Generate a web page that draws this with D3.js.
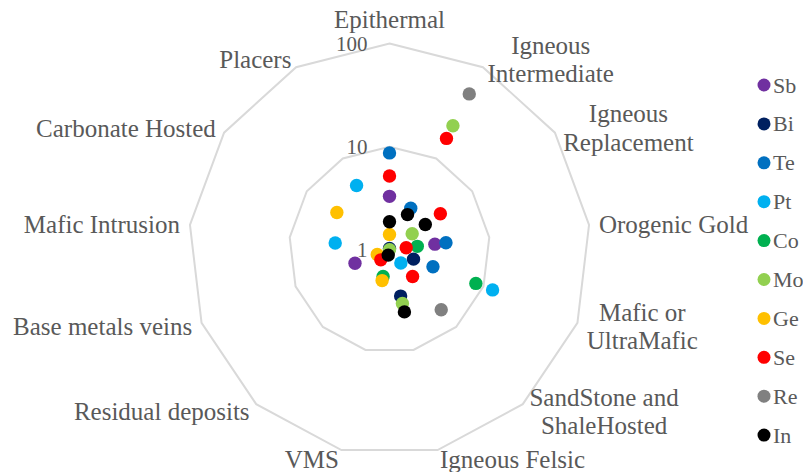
<!DOCTYPE html>
<html>
<head>
<meta charset="utf-8">
<script src="https://cdnjs.cloudflare.com/ajax/libs/d3/7.8.5/d3.min.js"></script>
<style>
  body { margin: 0; background: #fff; }
  text { font-family: "Liberation Serif", "Times New Roman", serif; fill: #595959; }
</style>
</head>
<body>
<div class="chart"></div>
<script>
// Categories (deposit types), clockwise from the top
var categories = ["Epithermal", "Igneous Intermediate", "Igneous Replacement", "Orogenic Gold",
  "Mafic or UltraMafic", "SandStone and ShaleHosted", "Igneous Felsic", "VMS",
  "Residual deposits", "Base metals veins", "Mafic Intrusion", "Carbonate Hosted", "Placers"];
// How each category label wraps
var categoryLines = [["Epithermal"], ["Igneous", "Intermediate"], ["Igneous", "Replacement"],
  ["Orogenic Gold"], ["Mafic or", "UltraMafic"], ["SandStone and", "ShaleHosted"],
  ["Igneous Felsic"], ["VMS"], ["Residual deposits"], ["Base metals veins"],
  ["Mafic Intrusion"], ["Carbonate Hosted"], ["Placers"]];

// Elements (series)
var elements = ["Sb", "Bi", "Te", "Pt", "Co", "Mo", "Ge", "Se", "Re", "In"];

// Values per category (null = no marker)
var sb = [3.3, null, null, 2.85, null, null, null, null, null, 2.33, null, null, null];
var bi = [1.03, null, null, null, 1.8, null, 2.9, null, null, null, null, null, null];
var te = [8.7, 2.85, null, 3.68, 2.9, null, null, null, null, null, null, null, null];
var pt = [null, null, null, null, 12.5, 1.48, null, null, null, null, 3.5, null, 5.07];
var co = [null, null, null, 1.9, 8.3, null, null, 1.85, null, null, null, null, null];
var mo = [1.0, 22.8, 1.88, null, null, null, 3.44, null, null, null, null, null, null];
var ge = [1.41, null, null, null, null, null, null, 2.03, null, 1.35, null, 4.33, null];
var se = [5.2, 16.6, 4.12, 1.47, null, 2.22, null, null, 1.35, null, null, null, null];
var re = [null, 51, null, null, null, 5.97, null, null, null, null, null, null, null];
var inn = [1.87, 2.43, 2.71, null, null, null, 4.17, 1.13, null, null, null, null, null];
var seriesValues = [sb, bi, te, pt, co, mo, ge, se, re, inn];

// Radial axis (log scale)
var gridValues = [10, 100];
var tickLabels = [1, 10, 100];

var colors = ["#7030A0", "#002060", "#0070C0", "#00B0F0", "#00B050",
  "#92D050", "#FFC000", "#FF0000", "#808080", "#000000"];

// SVG area
var svgWidth = 803;
var svgHeight = 472;
var cx = 389.5;
var cy = 249.8;
var radius = 201;
var aspect = 1.026;   // picture is slightly taller than wide
var n = categories.length;

var svg = d3.select(".chart")
  .append("svg")
  .attr("width", svgWidth)
  .attr("height", svgHeight);

var rScale = d3.scaleLog().domain([1, 100]).range([0, radius]);

function angle(i) { return i * 2 * Math.PI / n; }
function point(i, v) {
  var r = rScale(v);
  return [cx + r * Math.sin(angle(i)), cy - r * Math.cos(angle(i)) * aspect];
}

// Grid polygons
svg.selectAll(".grid")
  .data(gridValues)
  .enter().append("polygon")
  .attr("class", "grid")
  .attr("points", function(v) {
    return d3.range(n).map(function(i) { return point(i, v).join(","); }).join(" ");
  })
  .attr("fill", "none")
  .attr("stroke", "#d9d9d9")
  .attr("stroke-width", 2);

// Tick labels along the top axis
svg.selectAll(".tick-label")
  .data(tickLabels)
  .enter().append("text")
  .attr("class", "tick-label")
  .attr("x", cx - 22)
  .attr("y", function(v) { return point(0, v)[1]; })
  .attr("text-anchor", "end")
  .attr("dominant-baseline", "central")
  .attr("font-size", 21)
  .text(function(v) { return v; });

// Category labels, placed just outside each vertex
var lineH = 28.5;
categoryLines.forEach(function(lines, i) {
  var s = Math.sin(angle(i));
  var c = Math.cos(angle(i));
  var v = point(i, 100);
  var label = svg.append("text")
    .attr("class", "cat-label")
    .attr("font-size", 25)
    .attr("text-anchor", "middle")
    .attr("dominant-baseline", "central");
  var spans = label.selectAll("tspan")
    .data(lines)
    .enter().append("tspan")
    .text(function(d) { return d; });
  var w = 0;
  spans.each(function() { w = Math.max(w, this.getComputedTextLength()); });
  var centerX, centerY;
  if (Math.abs(s) < 0.05) {
    centerX = v[0];
    centerY = v[1] - 25;
  } else {
    var gap = 10 * Math.abs(s);
    centerX = s > 0 ? v[0] + gap + w / 2 : v[0] - gap - w / 2;
    centerY = v[1] - c * 9;
  }
  var top = centerY - lines.length * lineH / 2;
  spans
    .attr("x", centerX)
    .attr("y", function(d, k) { return top + lineH * (k + 0.5); });
});

// Markers
var markers = svg.append("g");
seriesValues.forEach(function(values, si) {
  var pts = [];
  values.forEach(function(v, i) { if (v !== null) pts.push({i: i, v: v}); });
  markers.selectAll(".m" + si)
    .data(pts)
    .enter().append("circle")
    .attr("class", "m" + si)
    .attr("cx", function(d) { return point(d.i, d.v)[0]; })
    .attr("cy", function(d) { return point(d.i, d.v)[1]; })
    .attr("r", 6.7)
    .attr("fill", colors[si]);
});

// Legend
var legend = svg.selectAll(".legend")
  .data(elements)
  .enter().append("g")
  .attr("class", "legend")
  .attr("transform", function(d, i) { return "translate(764," + (85 + i * 38.9) + ")"; });
legend.append("circle")
  .attr("r", 6.5)
  .attr("fill", function(d, i) { return colors[i]; });
legend.append("text")
  .attr("x", 9)
  .attr("dominant-baseline", "central")
  .attr("font-size", 22)
  .text(function(d) { return d; });
</script>
</body>
</html>
